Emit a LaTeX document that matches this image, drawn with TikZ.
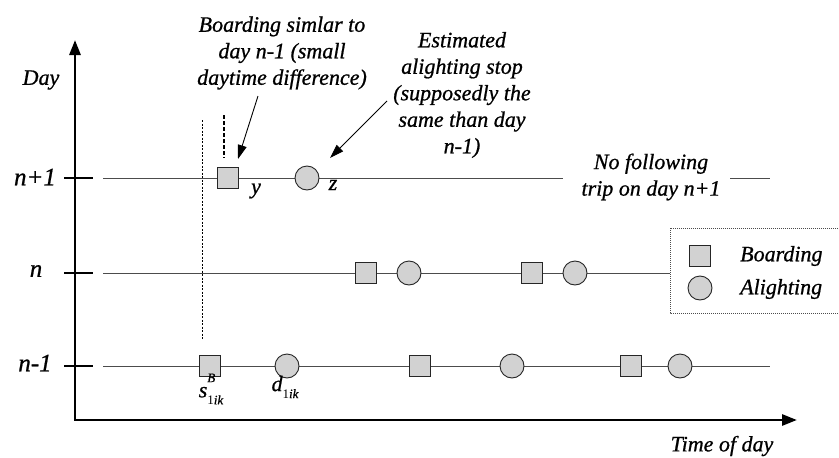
\documentclass[tikz,border=0pt]{standalone}
\usepackage{fontspec}
\setmainfont{Liberation Serif}[ItalicFeatures={FakeBold=0.8}]
\usetikzlibrary{arrows.meta}
\begin{document}
\begin{tikzpicture}[x=1pt,y=-1pt,
  lbl/.style={font=\fontsize{22}{26.5}\selectfont\itshape, align=center, inner sep=0pt},
  rowlbl/.style={font=\fontsize{25}{30}\selectfont\itshape, inner sep=0pt},
  board/.style={draw=black!85, fill=gray!35, line width=0.9pt, minimum size=21pt, inner sep=0pt, rectangle},
  alight/.style={draw=black!85, fill=gray!35, line width=0.9pt, minimum size=24pt, inner sep=0pt, circle},
  axisline/.style={line width=2.8pt, line join=miter, {Triangle[length=15pt,width=11pt]}-{Triangle[length=15pt,width=11pt]}},
  rowline/.style={draw=gray!60!black, line width=0.8pt},
  tickmark/.style={line width=2.4pt},
  callout/.style={line width=0.9pt, -{Triangle[length=14pt,width=9pt]}},
  longdash/.style={line width=0.9pt, dash pattern=on 2pt off 1.5pt},
  shortdash/.style={line width=1.3pt, dash pattern=on 4pt off 2pt},
  legendbox/.style={draw=gray!60!black, line width=0.6pt, dash pattern=on 1pt off 1pt},
]
\useasboundingbox (0,0) rectangle (839,458);

% axes
\coordinate (ytop) at (75,40);
\coordinate (orig) at (75,420);
\coordinate (xend) at (797,420);
\draw[axisline] (ytop) -- (orig) -- (xend);
\node[lbl] (daylbl) at (41,80) {Day};
\node[lbl] (timelbl) at (722,446) {Time of day};

% ticks and row labels
\foreach \nm/\yy in {t1/178, t0/273, tm/366}{
  \coordinate (\nm a) at (64,\yy);
  \coordinate (\nm b) at (93,\yy);
  \draw[tickmark] (\nm a) -- (\nm b);
}
\node[rowlbl] (lnp) at (35,177) {n+1};
\node[rowlbl] (ln) at (36,271) {n};
\node[rowlbl] (lnm) at (35,363) {n-1};

% row lines
\coordinate (r1s) at (103,178); \coordinate (r1e) at (563,178);
\coordinate (r1x) at (730,178); \coordinate (r1y) at (770,178);
\coordinate (r0s) at (103,273); \coordinate (r0e) at (670,273);
\coordinate (rms) at (103,366); \coordinate (rme) at (770,366);
\draw[rowline] (r1s) -- (r1e);
\draw[rowline] (r1x) -- (r1y);
\draw[rowline] (r0s) -- (r0e);
\draw[rowline] (rms) -- (rme);

% dashed verticals
\coordinate (dl1) at (202,120); \coordinate (dl2) at (202,340);
\coordinate (ds1) at (224,115); \coordinate (ds2) at (224,158);
\draw[longdash] (dl1) -- (dl2);
\draw[shortdash] (ds1) -- (ds2);

% markers row n+1
\node[board] (b1) at (228,178) {};
\node[alight] (a1) at (307,178) {};
\node[lbl] (ylbl) at (256,191) {y};
\node[lbl] (zlbl) at (333,185) {z};

% markers row n
\node[board] (b01) at (366,273) {};
\node[alight] (a01) at (409,273) {};
\node[board] (b02) at (532,273) {};
\node[alight] (a02) at (575,273) {};

% markers row n-1
\node[board] (bm1) at (210,366) {};
\node[alight] (am1) at (287,366) {};
\node[board] (bm2) at (420,366) {};
\node[alight] (am2) at (512,366) {};
\node[board] (bm3) at (631,366) {};
\node[alight] (am3) at (680,366) {};

\node[lbl] (slbl) at (211,389) {s\rlap{\raisebox{1.5ex}{\fontsize{13}{13}\selectfont B}}\raisebox{-0.7ex}{\fontsize{13}{13}\selectfont\upshape 1\itshape ik}};
\node[lbl] (dlbl) at (285,387) {d\raisebox{-0.7ex}{\fontsize{13}{13}\selectfont\upshape 1\itshape ik}};

% annotations
\node[lbl] (boardtxt) at (282,53) {Boarding simlar to\\day n-1 (small\\daytime difference)};
\node[lbl] (esttxt) at (462,95) {Estimated\\alighting stop\\(supposedly the\\same than day\\n-1)};
\node[lbl] (nofol) at (651,177) {No following\\trip on day n+1};

\coordinate (c1s) at (258,96); \coordinate (c1e) at (238,159);
\coordinate (c2s) at (387,101); \coordinate (c2e) at (330,158);
\draw[callout] (c1s) -- (c1e);
\draw[callout] (c2s) -- (c2e);

% legend
\coordinate (lg1) at (842,228); \coordinate (lg2) at (670,228);
\coordinate (lg3) at (670,313); \coordinate (lg4) at (842,313);
\draw[legendbox] (lg1) -- (lg2) -- (lg3) -- (lg4);
\node[board] (legb) at (700,256) {};
\node[alight] (lega) at (700,288) {};
\node[lbl, anchor=west] (legbt) at (740,256) {Boarding};
\node[lbl, anchor=west] (legat) at (740,289) {Alighting};
\end{tikzpicture}
\end{document}
